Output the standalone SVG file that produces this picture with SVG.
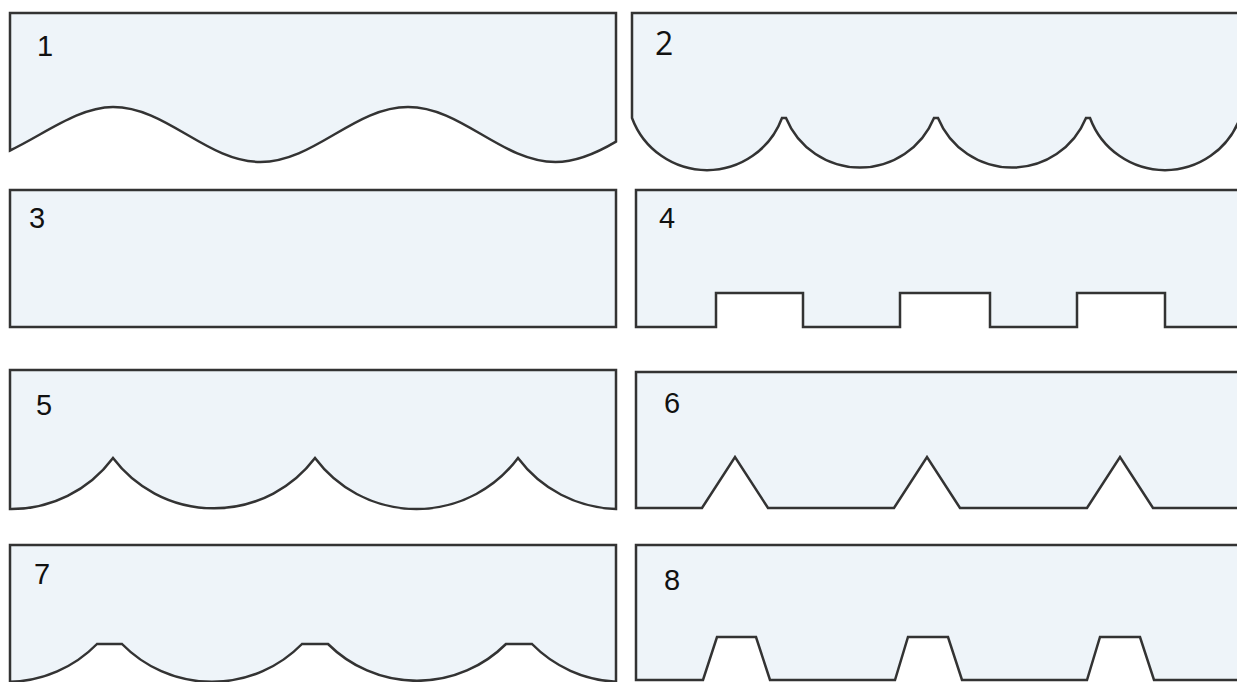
<svg xmlns="http://www.w3.org/2000/svg" width="1237" height="682" viewBox="0 0 1237 682">
<style>
.p{fill:#eef4f9;stroke:#333;stroke-width:2.5;stroke-linejoin:miter}
.n{font-family:"Liberation Sans",Arial,sans-serif;font-size:29px;fill:#111}
.n2{font-family:"Open Sans","DejaVu Sans",sans-serif;font-size:32px;fill:#111}
</style>
<rect width="1237" height="682" fill="#fff"/>
<g id="panel1">
<path class="p" d="M10,13 H616 V141.6 C596.5,153.2 576,162 555.5,162 C501.9,162 461.6,107 408,107 C354.4,107 314.1,162 260.5,162 C206.9,162 166.6,107 113,107 C78.7,107 44.3,134.2 10,150.5 Z"/>
<text class="n" x="37" y="56">1</text>
</g>
<g id="panel2">
<path class="p" d="M632,13 H1240 V118 A80 80 0 0 1 1090,118 L1086,118 A80 80 0 0 1 938,118 L934,118 A80 80 0 0 1 786,118 L782,118 A80 80 0 0 1 632,118 Z"/>
<text class="n2" x="655" y="55">2</text>
</g>
<g id="panel3">
<rect class="p" x="10" y="190" width="606" height="137"/>
<text class="n" x="29" y="228">3</text>
</g>
<g id="panel4">
<path class="p" d="M636,190 H1245 V327 H1165 V293 H1077 V327 H990 V293 H900 V327 H803 V293 H716 V327 H636 Z"/>
<text class="n" x="659" y="228">4</text>
</g>
<g id="panel5">
<path class="p" d="M10,370 H616 V509 A126.5 126.5 0 0 1 518,458 A126.5 126.5 0 0 1 315,458 A126.5 126.5 0 0 1 113,458 A126.5 126.5 0 0 1 10,509 Z"/>
<text class="n" x="36" y="415">5</text>
</g>
<g id="panel6">
<path class="p" d="M636,372 H1245 V508 H1153 L1120,457 L1087,508 H960 L927,457 L894,508 H768 L735,457 L702,508 H636 Z"/>
<text class="n" x="664" y="413">6</text>
</g>
<g id="panel7">
<path class="p" d="M10,545 H616 V681.7 A126 126 0 0 1 532,644 L506,644 A126 126 0 0 1 328,644 L302,644 A126 126 0 0 1 122,644 L97,644 A126 126 0 0 1 10,681.8 Z"/>
<text class="n" x="34" y="584">7</text>
</g>
<g id="panel8">
<path class="p" d="M636,545 H1245 V680 H1154 L1140,637 H1100 L1087,680 H962 L948,637 H908 L895,680 H770 L756,637 H717 L703,680 H636 Z"/>
<text class="n" x="664" y="590">8</text>
</g>
</svg>
